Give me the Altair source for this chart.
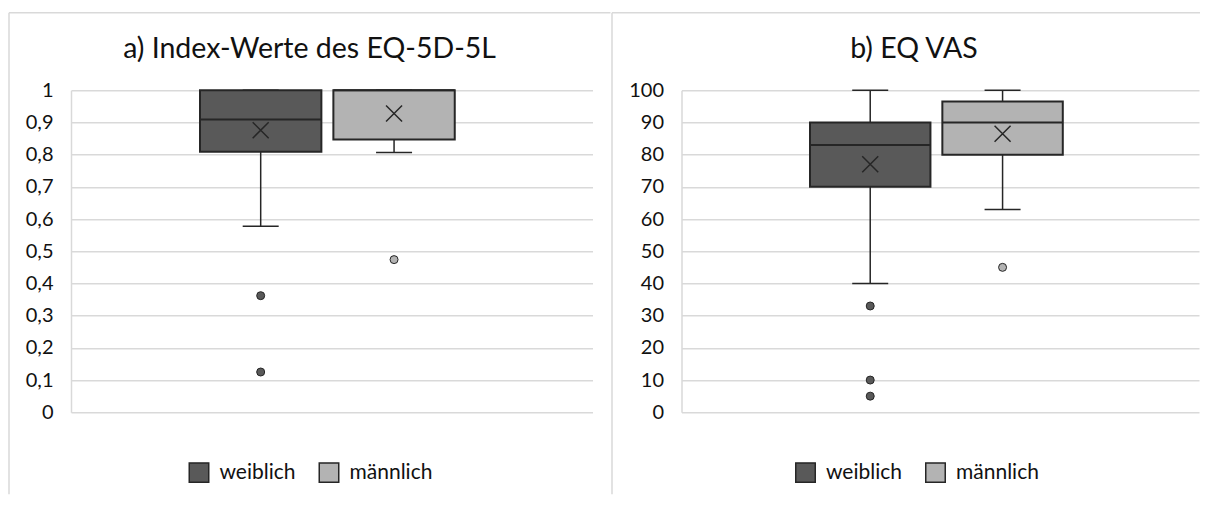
import altair as alt
import pandas as pd

# ---------------- data ----------------
groups = ["weiblich", "männlich"]
fill_colors = ["#595959", "#b3b3b3"]

a_title = "a) Index-Werte des EQ-5D-5L"
a_lower = [0.578, 0.807]
a_q1 = [0.809, 0.847]
a_median = [0.909, 1.0]
a_q3 = [1.0, 1.0]
a_upper = [1.0, 1.0]
a_mean = [0.876, 0.928]
a_out_group = ["weiblich", "weiblich", "männlich"]
a_out_value = [0.362, 0.125, 0.474]
a_ticks = [0, 0.1, 0.2, 0.3, 0.4, 0.5, 0.6, 0.7, 0.8, 0.9, 1.0]

b_title = "b) EQ VAS"
b_lower = [40, 63]
b_q1 = [70, 80]
b_median = [83, 90]
b_q3 = [90, 96.5]
b_upper = [100, 100]
b_mean = [77, 86.5]
b_out_group = ["weiblich", "weiblich", "weiblich", "männlich"]
b_out_value = [33, 10, 5, 45]
b_ticks = [0, 10, 20, 30, 40, 50, 60, 70, 80, 90, 100]

# ---------------- style ----------------
FONT = "Lato"
DARK = "#262626"
GRID = "#d9d9d9"
XSHAPE = "M-1,-1L1,1M-1,1L1,-1"
PAD_IN = 0.09
PAD_OUT = 1.0


def panel(title, lower, q1, med, q3, upper, mean, og, ov, ticks, ymax,
          label_expr, width, frame, title_x, legend_x, first_left):
    stats = pd.DataFrame({"group": groups, "lower": lower, "q1": q1,
                          "median": med, "q3": q3, "upper": upper,
                          "mean": mean})
    outl = pd.DataFrame({"group": og, "value": ov})
    one = pd.DataFrame({"t": [title]})

    n = len(groups)
    step = width / (n - PAD_IN + 2 * PAD_OUT)
    bandwidth = step * (1 - PAD_IN)
    align = first_left / (width - step * (n - PAD_IN))
    xs = alt.Scale(domain=groups, paddingInner=PAD_IN, paddingOuter=PAD_OUT,
                   align=align)
    x = alt.X("group:N", scale=xs, axis=None)
    ys = alt.Scale(domain=[0, ymax], nice=False, zero=True)
    yaxis = alt.Axis(values=ticks, labelExpr=label_expr, title=None,
                     ticks=False, domain=True, domainColor=GRID,
                     domainWidth=1.5, grid=True, gridColor=GRID,
                     gridWidth=1.5, labelFont=FONT, labelFontSize=20,
                     labelColor="#111111", labelPadding=18,
                     labelOverlap=False)

    def Y(field):
        return alt.Y(field, scale=ys, axis=yaxis)

    col = alt.Color("group:N", scale=alt.Scale(domain=groups,
                                               range=fill_colors))

    fl, fr, ft, fb = frame
    fr_top = alt.Chart(one).mark_rule(color=GRID, strokeWidth=1.5).encode(
        x=alt.value(fl), x2=alt.value(fr), y=alt.value(ft))
    fr_left = alt.Chart(one).mark_rule(color=GRID, strokeWidth=1.5).encode(
        x=alt.value(fl), y=alt.value(ft), y2=alt.value(fb))
    layers = [fr_top, fr_left]

    whisk = alt.Chart(stats).mark_rule(color=DARK, strokeWidth=1.5).encode(
        x=x, y=Y("lower:Q"), y2="upper:Q")
    cap_lo = alt.Chart(stats).mark_tick(size=36, thickness=1.5, color=DARK,
                                        opacity=1).encode(x=x, y=Y("lower:Q"))
    cap_hi = alt.Chart(stats).mark_tick(size=36, thickness=1.5, color=DARK,
                                        opacity=1).encode(x=x, y=Y("upper:Q"))
    box = alt.Chart(stats).mark_bar(stroke=DARK, strokeWidth=2,
                                    opacity=1).encode(
        x=x, y=Y("q1:Q"), y2="q3:Q",
        color=col.legend(alt.Legend(
            orient="none", legendX=legend_x, legendY=371.5,
            direction="horizontal", title=None, symbolType="square",
            symbolSize=380, symbolStrokeColor=DARK, symbolStrokeWidth=1.5,
            symbolOpacity=1, labelFont=FONT, labelFontSize=21,
            labelColor="#111111", labelOffset=10, columnPadding=20,
            padding=0)))
    median = alt.Chart(stats).mark_tick(size=bandwidth, thickness=2,
                                        color=DARK, opacity=1).encode(
        x=x, y=Y("median:Q"))
    meanpt = alt.Chart(stats).mark_point(shape=XSHAPE, size=256,
                                         filled=False, stroke=DARK,
                                         strokeWidth=1.5, opacity=1).encode(
        x=x, y=Y("mean:Q"))
    outp = alt.Chart(outl).mark_point(shape="circle", size=64, filled=True,
                                      stroke=DARK, strokeWidth=1,
                                      opacity=1).encode(
        x=x, y=Y("value:Q"),
        fill=alt.Fill("group:N", scale=alt.Scale(domain=groups,
                                                 range=fill_colors),
                      legend=None))
    ttl = alt.Chart(one).mark_text(font=FONT, fontSize=28.5, color="#111111",
                                   baseline="alphabetic").encode(
        text="t:N", x=alt.value(title_x), y=alt.value(-32.5))

    layers += [whisk, cap_lo, cap_hi, box, median, meanpt, outp, ttl]
    return alt.layer(*layers).properties(width=width, height=322)


left = panel(a_title, a_lower, a_q1, a_median, a_q3, a_upper, a_mean,
             a_out_group, a_out_value, a_ticks, 1.0,
             "replace(format(datum.value, '.1~f'), '.', ',')",
             521.5, (-62, 539.5, -77.5, 404), 238.5, 117.5, 129)
right = panel(b_title, b_lower, b_q1, b_median, b_q3, b_upper, b_mean,
              b_out_group, b_out_value, b_ticks, 100,
              "format(datum.value, 'd')",
              517.5, (-69.5, 518.5, -77.5, 404), 232.5, 113.5, 128.5)

chart = alt.hconcat(left, right, spacing=-1.5).resolve_legend(
    color="independent").resolve_scale(color="independent").properties(
    padding={"left": 0, "top": 3.25, "right": 0, "bottom": 0}
).configure_view(stroke=None)

chart.save("out.html", embed_options={"renderer": "svg", "actions": False})
